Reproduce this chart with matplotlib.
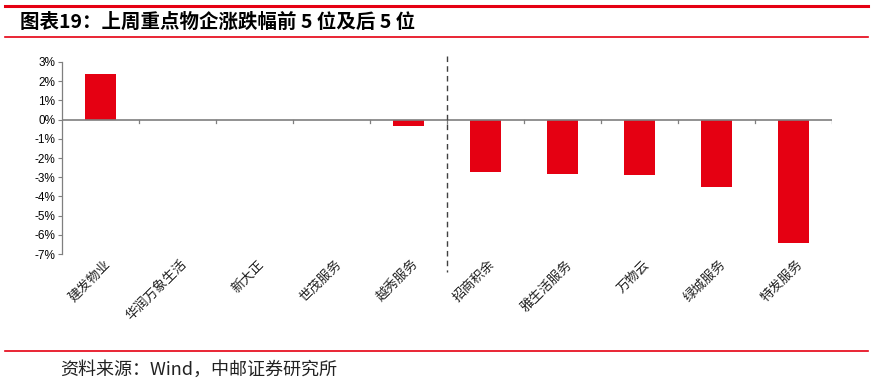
import matplotlib
matplotlib.use("Agg")
from matplotlib import pyplot as plt
from matplotlib.ticker import FuncFormatter
from matplotlib.lines import Line2D

plt.rcParams['font.family'] = ['Noto Sans CJK SC', 'DejaVu Sans']

companies = ["建发物业", "华润万象生活", "新大正", "世茂服务", "越秀服务",
             "招商积余", "雅生活服务", "万物云", "绿城服务", "特发服务"]
changes = [2.37, 0.0, 0.0, 0.0, -0.33, -2.74, -2.82, -2.90, -3.53, -6.43]
yticks = [3, 2, 1, 0, -1, -2, -3, -4, -5, -6, -7]

red = "#E50012"
axis_gray = "#7f7f7f"

fig = plt.figure(figsize=(8.73, 3.85), dpi=100)
ax = fig.add_axes([62 / 873, 1 - 254 / 385, 770 / 873, 192 / 385])

x = list(range(len(companies)))
ax.bar(x, changes, width=0.40, color=red, zorder=2)

ax.set_xlim(-0.5, len(companies) - 0.5)
ax.set_ylim(-7, 3)
ax.set_yticks(yticks)
ax.yaxis.set_major_formatter(FuncFormatter(lambda v, p: "%d%%" % v))
for lab in ax.get_yticklabels():
    lab.set_family(['Liberation Sans', 'DejaVu Sans'])
    lab.set_fontsize(8.5)
ax.tick_params(axis='y', length=3, width=0.8, color=axis_gray, pad=2)

# x axis drawn as the zero line
for s in ["top", "right", "bottom"]:
    ax.spines[s].set_visible(False)
ax.spines["left"].set_color(axis_gray)
ax.spines["left"].set_linewidth(0.9)
ax.axhline(0, color=axis_gray, lw=1.2, zorder=3)

# category boundary ticks on the zero line
ax.set_xticks([])
for b in [i + 0.5 for i in x]:
    ax.plot([b, b], [0, -0.2], color=axis_gray, lw=0.9, zorder=3)

# labels
for i, name in enumerate(companies):
    ax.text(i + 0.04, -7.2, name, rotation=45, ha='right', va='top',
            rotation_mode='anchor', fontsize=9.5, color='#222222')

# divider between top 5 and bottom 5
ax.plot([4.5, 4.5], [1.03, -0.095], transform=ax.get_xaxis_transform(),
        color='#404040', lw=1.0, ls=(0, (4, 3)), clip_on=False, zorder=4)

# header/footer decoration
fig.add_artist(Line2D([5 / 873, 868 / 873], [1 - 6 / 385] * 2, color=red, lw=2.2))
fig.add_artist(Line2D([5 / 873, 868 / 873], [1 - 37 / 385] * 2, color=red, lw=1.2))
fig.add_artist(Line2D([5 / 873, 868 / 873], [1 - 351 / 385] * 2, color=red, lw=1.2))

fig.text(20 / 873, 1 - 22 / 385, "图表19：上周重点物企涨跌幅前 5 位及后 5 位",
         fontsize=14, fontweight='bold', va='center', ha='left')
fig.text(60 / 873, 1 - 370 / 385, "资料来源：Wind，中邮证券研究所",
         fontsize=13, va='center', ha='left', color='#222222')

fig.savefig("out.png", dpi=100)
